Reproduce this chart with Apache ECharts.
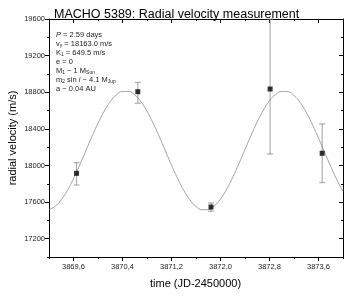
<!DOCTYPE html>
<html><head><meta charset="utf-8">
<script src="https://cdn.jsdelivr.net/npm/echarts@6/dist/echarts.min.js"></script>
<style>html,body{margin:0;padding:0;background:#fff}#c{width:349px;height:296px}</style>
</head><body><div id="c"></div>
<script>
// ---- data ----
const titleText = 'MACHO 5389: Radial velocity measurement';
const xName = 'time (JD-2450000)';
const yName = 'radial velocity (m/s)';
const xMajorTicks = [3869.6, 3870.4, 3871.2, 3872.0, 3872.8, 3873.6];
const xMinorTicks = [3869.2, 3870.0, 3870.8, 3871.6, 3872.4, 3873.2, 3874.0];
const yMajorTicks = [17200, 17600, 18000, 18400, 18800, 19200, 19600];
const yMinorTicks = [17000, 17400, 17800, 18200, 18600, 19000, 19400];
const obsT = [3869.65, 3870.65, 3871.845, 3872.81, 3873.66];
const obsV = [17914, 18806, 17546, 18835, 18133];
const errLow = [17786, 18680, 17500, 18125, 17812];
const errHigh = [18030, 18908, 17590, 19600, 18454];
const curveT = [3869.2,3869.3,3869.4,3869.5,3869.6,3869.7,3869.8,3869.9,3870.0,3870.1,3870.2,3870.3,3870.4,3870.5,3870.6,3870.7,3870.8,3870.9,3871.0,3871.1,3871.2,3871.3,3871.4,3871.5,3871.6,3871.7,3871.8,3871.9,3872.0,3872.1,3872.2,3872.3,3872.4,3872.5,3872.6,3872.7,3872.8,3872.9,3873.0,3873.1,3873.2,3873.3,3873.4,3873.5,3873.6,3873.7,3873.8,3873.9,3874.0];
const curveV = [17517,17553,17625,17728,17857,18003,18159,18315,18462,18592,18697,18770,18808,18808,18770,18697,18592,18462,18315,18159,18003,17857,17728,17625,17553,17517,17519,17559,17634,17740,17871,18019,18175,18331,18476,18604,18706,18775,18809,18806,18764,18688,18580,18448,18300,18143,17988,17843,17716];
const annotation = '{i|P} = 2.59 days\nv{s|γ} = 18163.0 m/s\nK{s|1} = 649.5 m/s\ne = 0\nM{s|1} ~ 1 M{s|Sun}\nm{s|2} sin {i|i} ~ 4.1 M{s|Jup}\na ~ 0.04 AU';

const FONT = 'Liberation Sans, Arial, sans-serif';
const X0 = 3869.2, X1 = 3874.0, Y0 = 17000, Y1 = 19600;

function xAx(pos, ticks, len, inside, showLine, labels) {
  return {
    type: 'value', position: pos, min: X0, max: X1,
    axisLine: {show: showLine, onZero: false, lineStyle: {color: '#000', width: 1}},
    axisTick: {show: true, inside: inside, length: len, customValues: ticks, lineStyle: {color: '#000', width: 1}},
    axisLabel: labels ? {show: true, customValues: ticks, fontFamily: FONT, fontSize: 7.5, color: '#222', margin: 6,
      formatter: v => Number(v).toFixed(1).replace('.', ',')} : {show: false},
    splitLine: {show: false}
  };
}
function yAx(pos, ticks, len, inside, showLine, labels) {
  return {
    type: 'value', position: pos, min: Y0, max: Y1,
    axisLine: {show: showLine, onZero: false, lineStyle: {color: '#000', width: 1}},
    axisTick: {show: true, inside: inside, length: len, customValues: ticks, lineStyle: {color: '#000', width: 1}},
    axisLabel: labels ? {show: true, customValues: ticks, fontFamily: FONT, fontSize: 7.5, color: '#222', margin: 4,
      formatter: v => String(Math.round(v))} : {show: false},
    splitLine: {show: false}
  };
}

const chart = echarts.init(document.getElementById('c'), null, {renderer: 'canvas'});
chart.setOption({
  animation: false,
  backgroundColor: '#fff',
  title: {text: titleText, left: 49, top: 3, textStyle: {fontFamily: FONT, fontSize: 12.5, fontWeight: 'normal', color: '#000'}},
  grid: {left: 49, right: 6, top: 19, bottom: 39, containLabel: false},
  xAxis: [
    xAx('bottom', xMajorTicks, 4, false, true, true),
    xAx('bottom', xMinorTicks, 2, false, false, false),
    xAx('top', xMajorTicks, 4, true, true, false),
    xAx('top', xMinorTicks, 2, true, false, false)
  ],
  yAxis: [
    yAx('left', yMajorTicks, 4, false, true, true),
    yAx('left', yMinorTicks, 2, false, false, false),
    yAx('right', yMajorTicks, 4, true, true, false),
    yAx('right', yMinorTicks, 2, true, false, false)
  ],
  graphic: [
    {type: 'text', left: 56, top: 30, silent: true, style: {
      text: annotation, fontFamily: FONT, fontSize: 7.5, lineHeight: 9, fill: '#222',
      rich: {
        i: {fontStyle: 'italic', fontFamily: FONT, fontSize: 7.5, lineHeight: 9},
        s: {fontFamily: FONT, fontSize: 5, lineHeight: 9, verticalAlign: 'bottom', padding: [3, 0, 0, 0]}
      }}},
    {type: 'text', left: 150, top: 278, silent: true, style: {text: xName, fontFamily: FONT, fontSize: 11, fill: '#000'}},
    {type: 'text', x: 13, y: 138, rotation: Math.PI / 2, silent: true, style: {text: yName, fontFamily: FONT, fontSize: 11, fill: '#000', align: 'center', verticalAlign: 'middle'}}
  ],
  series: [
    {type: 'line', xAxisIndex: 0, yAxisIndex: 0, data: curveT.map((t, i) => [t, curveV[i]]), smooth: true, showSymbol: false,
      lineStyle: {color: '#8a8a8a', width: 0.8}, z: 2},
    {type: 'custom', xAxisIndex: 0, yAxisIndex: 0, data: obsT.map((t, i) => [t, errLow[i], errHigh[i]]), z: 3,
      renderItem: function (params, api) {
        const lo = api.coord([api.value(0), api.value(1)]);
        const hi = api.coord([api.value(0), api.value(2)]);
        const w = 3;
        const st = {stroke: '#888', lineWidth: 0.8};
        return {type: 'group', children: [
          {type: 'line', shape: {x1: lo[0], y1: lo[1], x2: hi[0], y2: hi[1]}, style: st},
          {type: 'line', shape: {x1: lo[0] - w, y1: lo[1], x2: lo[0] + w, y2: lo[1]}, style: st},
          {type: 'line', shape: {x1: hi[0] - w, y1: hi[1], x2: hi[0] + w, y2: hi[1]}, style: st}
        ]};
      }},
    {type: 'scatter', xAxisIndex: 0, yAxisIndex: 0, data: obsT.map((t, i) => [t, obsV[i]]), symbol: 'rect', symbolSize: 5,
      itemStyle: {color: '#000'}, z: 4}
  ]
});
</script></body></html>
